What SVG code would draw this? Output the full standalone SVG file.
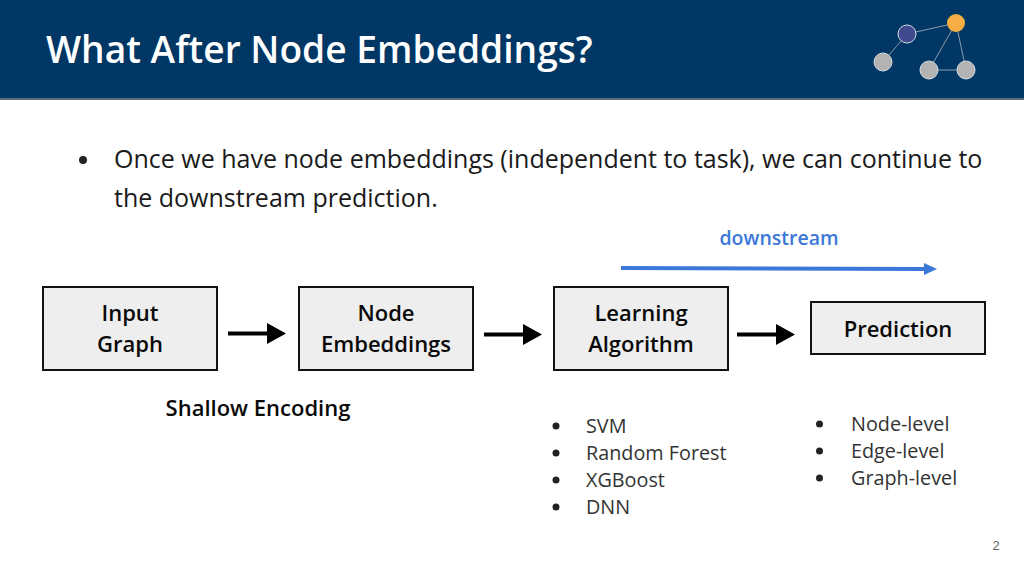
<svg xmlns="http://www.w3.org/2000/svg" width="1024" height="576" viewBox="0 0 1024 576">
<style>
text{font-family:"Open Sans","Noto Sans",sans-serif;fill:#1a1a1a}
.b{font-weight:600;font-size:22px;text-anchor:middle;fill:#0a0a0a}
.box{fill:#eeeeee;stroke:#111;stroke-width:2}
.body{font-size:25px}
.li{font-size:19.800px;fill:#333}
.gn{fill:#b3b3b3;stroke:#d5dde3;stroke-width:1}
.ge{stroke:#8d9aa8;stroke-width:1}
.ar{stroke:#000;stroke-width:4;fill:none}
</style>
<rect width="1024" height="576" fill="#fff"/>
<g id="header">
<rect width="1024" height="99" fill="#003764"/>
<rect y="98" width="1024" height="2" fill="#5a6e80"/>
<text x="46" y="63" font-size="37.150" font-weight="600" style="fill:#fff">What After Node Embeddings?</text>
</g>
<g id="logo">
<path class="ge" d="M907 34L956 23M907 34L883 62M956 23L929 70M956 23L966 70M929 70L966 70"/>
<circle class="gn" cx="907" cy="34" r="9" style="fill:#3f4a8f"/>
<circle cx="956" cy="23" r="9" fill="#f4ae45"/>
<circle class="gn" cx="883" cy="62" r="9"/>
<circle class="gn" cx="929" cy="70" r="9"/>
<circle class="gn" cx="966" cy="70" r="9"/>
</g>
<g id="intro">
<circle cx="83" cy="160" r="4" fill="#222"/>
<text class="body" x="114" y="168">Once we have node embeddings (independent to task), we can continue to</text>
<text class="body" x="114" y="207">the downstream prediction.</text>
</g>
<g id="downstream-label"><text x="779" y="245" font-size="19.500" font-weight="600" text-anchor="middle" style="fill:#3c78d8">downstream</text></g>
<g id="node-input"><rect class="box" x="43" y="287" width="174" height="83"/><text class="b" x="130" y="321">Input</text><text class="b" x="130" y="352">Graph</text></g>
<g id="node-embeddings"><rect class="box" x="299" y="287" width="174" height="83"/><text class="b" x="386" y="321">Node</text><text class="b" x="386" y="352">Embeddings</text></g>
<g id="node-learning"><rect class="box" x="554" y="287" width="174" height="83"/><text class="b" x="641" y="321">Learning</text><text class="b" x="641" y="352">Algorithm</text></g>
<g id="node-prediction"><rect class="box" x="811" y="302" width="174" height="52"/><text class="b" x="898" y="337">Prediction</text></g>
<g id="connectors">
<path class="ar" d="M228 333.500H268"/><path d="M267 323L286 333.500L267 344Z"/>
<path class="ar" d="M484 334.500H524"/><path d="M523 324L542 334.500L523 345Z"/>
<path class="ar" d="M737 334.500H777"/><path d="M776 324L795 334.500L776 345Z"/>
<path d="M621 268L925 269" stroke="#3c78d8" stroke-width="4" fill="none"/><path d="M924 263L937 269L924 275Z" fill="#3c78d8"/>
</g>
<g id="shallow"><text x="258" y="416" font-size="22" font-weight="600" text-anchor="middle" style="fill:#0a0a0a">Shallow Encoding</text></g>
<g id="models">
<circle cx="556" cy="426" r="3.500" fill="#222"/><text class="li" x="586" y="433">SVM</text>
<circle cx="556" cy="453" r="3.500" fill="#222"/><text class="li" x="586" y="460">Random Forest</text>
<circle cx="556" cy="480" r="3.500" fill="#222"/><text class="li" x="586" y="487">XGBoost</text>
<circle cx="556" cy="507" r="3.500" fill="#222"/><text class="li" x="586" y="514">DNN</text>
</g>
<g id="levels">
<circle cx="819.500" cy="424" r="3.500" fill="#222"/><text class="li" x="851" y="431">Node-level</text>
<circle cx="819.500" cy="451" r="3.500" fill="#222"/><text class="li" x="851" y="458">Edge-level</text>
<circle cx="819.500" cy="478" r="3.500" fill="#222"/><text class="li" x="851" y="485">Graph-level</text>
</g>
<text x="996" y="550" font-size="13" text-anchor="middle" style="fill:#666;font-family:'Liberation Sans',sans-serif">2</text>
</svg>
